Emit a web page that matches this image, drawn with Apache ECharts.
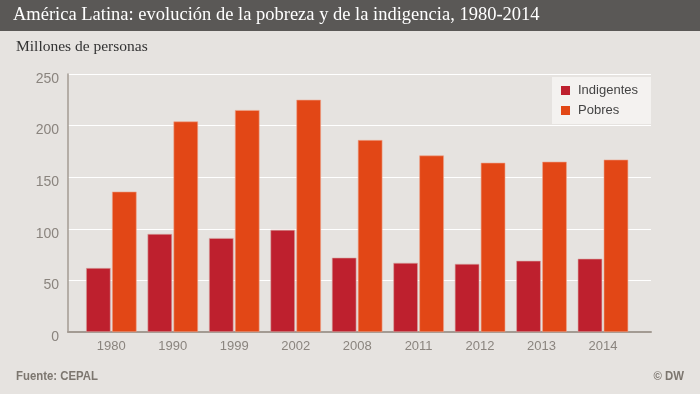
<!DOCTYPE html>
<html>
<head>
<meta charset="utf-8">
<script src="https://cdn.jsdelivr.net/npm/echarts@6/dist/echarts.min.js"></script>
<style>
html,body{margin:0;padding:0;background:#E6E3E0;}
#c{width:700px;height:394px;}
</style>
</head>
<body>
<div id="c"></div>
<script>
var years = ['1980','1990','1999','2002','2008','2011','2012','2013','2014'];
var indigentes = [62, 95, 91, 99, 72, 67, 66, 69, 71];
var pobres = [136, 204, 215, 225, 186, 171, 164, 165, 167];
var seriesNames = ['Indigentes', 'Pobres'];
var titleText = 'América Latina: evolución de la pobreza y de la indigencia, 1980-2014';
var subtitleText = 'Millones de personas';
var sourceText = 'Fuente: CEPAL';
var creditText = '© DW';

var chart = echarts.init(document.getElementById('c'), null, {renderer: 'canvas'});
var axisGrey = '#A39B93';
var labelGrey = '#8A847E';
chart.setOption({
  backgroundColor: '#E6E3E0',
  animation: false,
  graphic: [
    {type: 'rect', left: 0, top: 0, shape: {width: 700, height: 31}, style: {fill: '#5A5856'}, z: 0},
    {type: 'text', left: 13, top: 6, style: {text: titleText, fill: '#FFFFFF', font: '18.5px "Liberation Serif", "DejaVu Serif", serif'}},
    {type: 'text', left: 16, top: 39, style: {text: subtitleText, fill: '#333333', font: '15.5px "Liberation Serif", "DejaVu Serif", serif'}},
    {type: 'text', x: 16, y: 370, scaleX: 0.91, style: {text: sourceText, fill: '#7C766F', font: 'bold 12.5px "Liberation Sans", Arial, sans-serif'}},
    {type: 'text', x: 684, y: 370, scaleX: 0.91, style: {text: creditText, align: 'right', fill: '#7C766F', font: 'bold 12.5px "Liberation Sans", Arial, sans-serif'}}
  ],
  legend: {
    data: seriesNames,
    orient: 'vertical',
    left: 552,
    top: 77,
    backgroundColor: '#F4F2F0',
    padding: [6, 13, 6, 9],
    itemWidth: 9,
    itemHeight: 9,
    itemGap: 5,
    icon: 'rect',
    itemStyle: {borderWidth: 0},
    textStyle: {color: '#444444', fontSize: 13, fontFamily: 'Liberation Sans, Arial, sans-serif', padding: [0, 0, 0, 3], lineHeight: 15}
  },
  grid: [
    {left: 68, right: 49, top: 74, bottom: 62},
    {left: 80.6, right: 66.3, top: 74, bottom: 62}
  ],
  xAxis: [
    {gridIndex: 0, type: 'value', min: 0, max: 1,
     axisLine: {show: true, lineStyle: {color: axisGrey, width: 2}},
     axisTick: {show: false}, axisLabel: {show: false}, splitLine: {show: false}},
    {gridIndex: 1, type: 'category', data: years,
     axisLine: {show: false}, axisTick: {show: false},
     axisLabel: {color: labelGrey, fontSize: 13, fontFamily: 'Liberation Sans, Arial, sans-serif', margin: 8}}
  ],
  yAxis: [
    {gridIndex: 0, type: 'value', min: 0, max: 250, interval: 50,
     axisLine: {show: true, lineStyle: {color: axisGrey, width: 1.5}},
     axisTick: {show: false},
     axisLabel: {color: labelGrey, fontSize: 14, fontFamily: 'Liberation Sans, Arial, sans-serif', margin: 9, verticalAlign: 'top', lineHeight: 10},
     splitLine: {show: true, lineStyle: {color: '#FFFFFF', width: 1.2}}},
    {gridIndex: 1, type: 'value', min: 0, max: 250, interval: 50, show: false, splitLine: {show: false}}
  ],
  series: [
    {name: seriesNames[0], type: 'bar', xAxisIndex: 1, yAxisIndex: 1, data: indigentes,
     barWidth: 24.5, barGap: '6%',
     itemStyle: {color: '#BE202E', borderColor: '#D8A9A4', borderWidth: 0.6}},
    {name: seriesNames[1], type: 'bar', xAxisIndex: 1, yAxisIndex: 1, data: pobres,
     barWidth: 24.5, barGap: '6%',
     itemStyle: {color: '#E24716', borderColor: '#EFA58C', borderWidth: 0.6}}
  ]
});
</script>
</body>
</html>
